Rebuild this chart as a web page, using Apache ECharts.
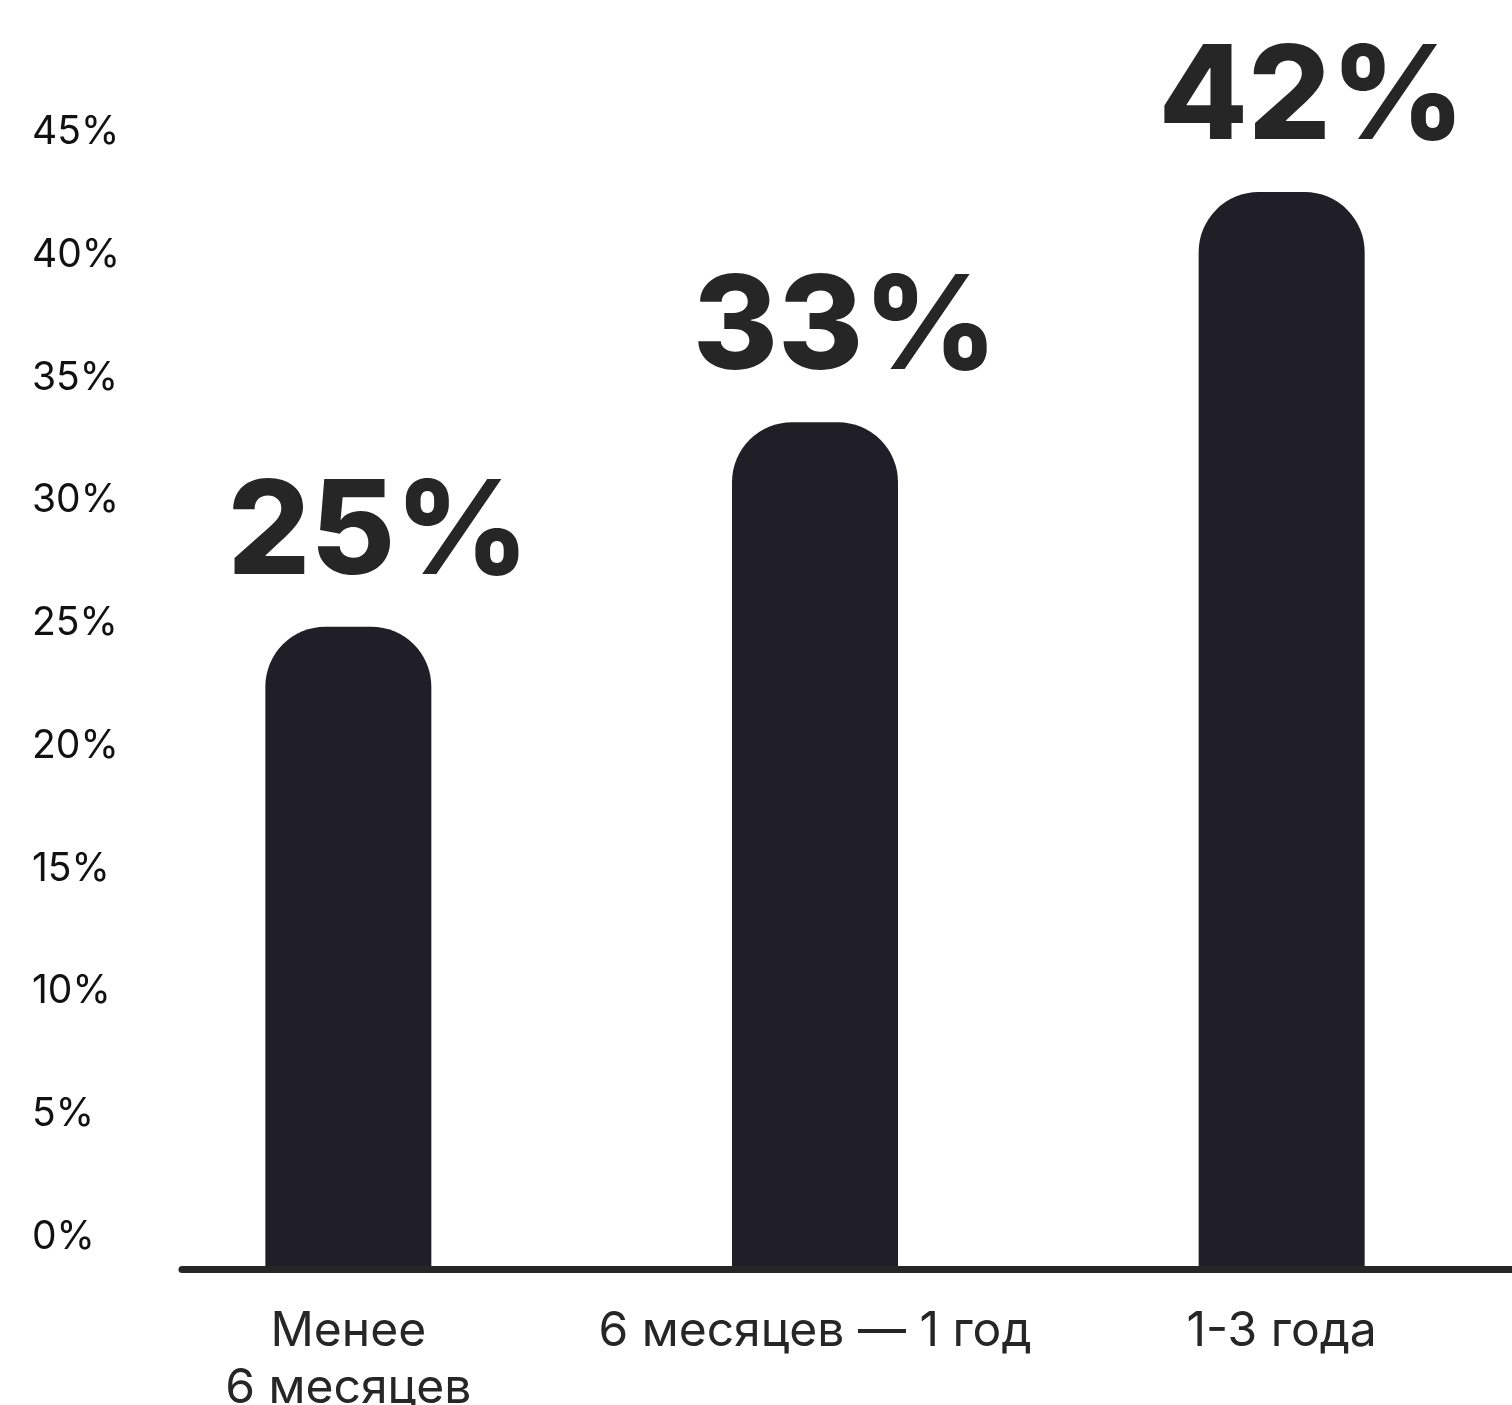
<!DOCTYPE html>
<html><head><meta charset="utf-8">
<script src="https://cdn.jsdelivr.net/npm/echarts@6/dist/echarts.min.js"></script>
<style>html,body{margin:0;padding:0;background:#fff}#c{width:1512px;height:1405px}</style>
</head><body><div id="c"></div>
<script>
const categories = ['Менее\n6 месяцев', '6 месяцев — 1 год', '1-3 года'];
const values = [25, 33, 42];
const tickValues = [0, 5, 10, 15, 20, 25, 30, 35, 40, 45];
const tickLabels = ['0%', '5%', '10%', '15%', '20%', '25%', '30%', '35%', '40%', '45%'];

const chart = echarts.init(document.getElementById('c'), null, {renderer: 'canvas'});
chart.setOption({
  backgroundColor: '#ffffff',
  animation: false,
  grid: [
    {left: 115, width: 1400, top: 100, bottom: 139, containLabel: false, outerBoundsMode: 'none'},
    {left: 182, right: 0, top: 1200, bottom: 135.5, containLabel: false, outerBoundsMode: 'none'}
  ],
  xAxis: [
    {
      type: 'category', gridIndex: 0, data: categories,
      axisLine: {show: false}, axisTick: {show: false}, splitLine: {show: false},
      axisLabel: {
        interval: 0, margin: 37, fontSize: 48, lineHeight: 57,
        fontFamily: 'Inter', color: '#262626', align: 'center'
      }
    },
    {
      type: 'value', gridIndex: 1, min: 0, max: 1,
      axisLabel: {show: false}, axisTick: {show: false}, splitLine: {show: false},
      axisLine: {show: true, lineStyle: {color: '#262626', width: 7}}
    }
  ],
  yAxis: [
    {
      type: 'value', gridIndex: 0, min: 0, max: 47.5, interval: 5,
      axisLine: {show: false}, axisTick: {show: false}, splitLine: {show: false},
      axisLabel: {
        showMaxLabel: false,
        align: 'left', margin: 83, verticalAlign: 'bottom', lineHeight: 58,
        fontSize: 39, fontFamily: 'Inter', color: '#111111',
        formatter: function (v) { const i = tickValues.indexOf(v); return i >= 0 ? tickLabels[i] : ''; }
      }
    },
    {
      type: 'value', gridIndex: 0, min: 0, max: 45.6, show: false,
      splitLine: {show: false}
    },
    {
      type: 'value', gridIndex: 1, min: 0, max: 1, show: false
    }
  ],
  series: [{
    type: 'bar',
    xAxisIndex: 0, yAxisIndex: 1,
    data: values,
    barWidth: 166,
    itemStyle: {color: '#201f28', borderRadius: [60, 60, 0, 0]},
    label: {
      show: true, position: 'top', distance: 27, offset: [30, 0],
      formatter: '{c}%', fontSize: 130, lineHeight: 130, fontWeight: 800,
      fontFamily: 'Inter', color: '#262626'
    }
  }]
});
</script>
</body></html>
